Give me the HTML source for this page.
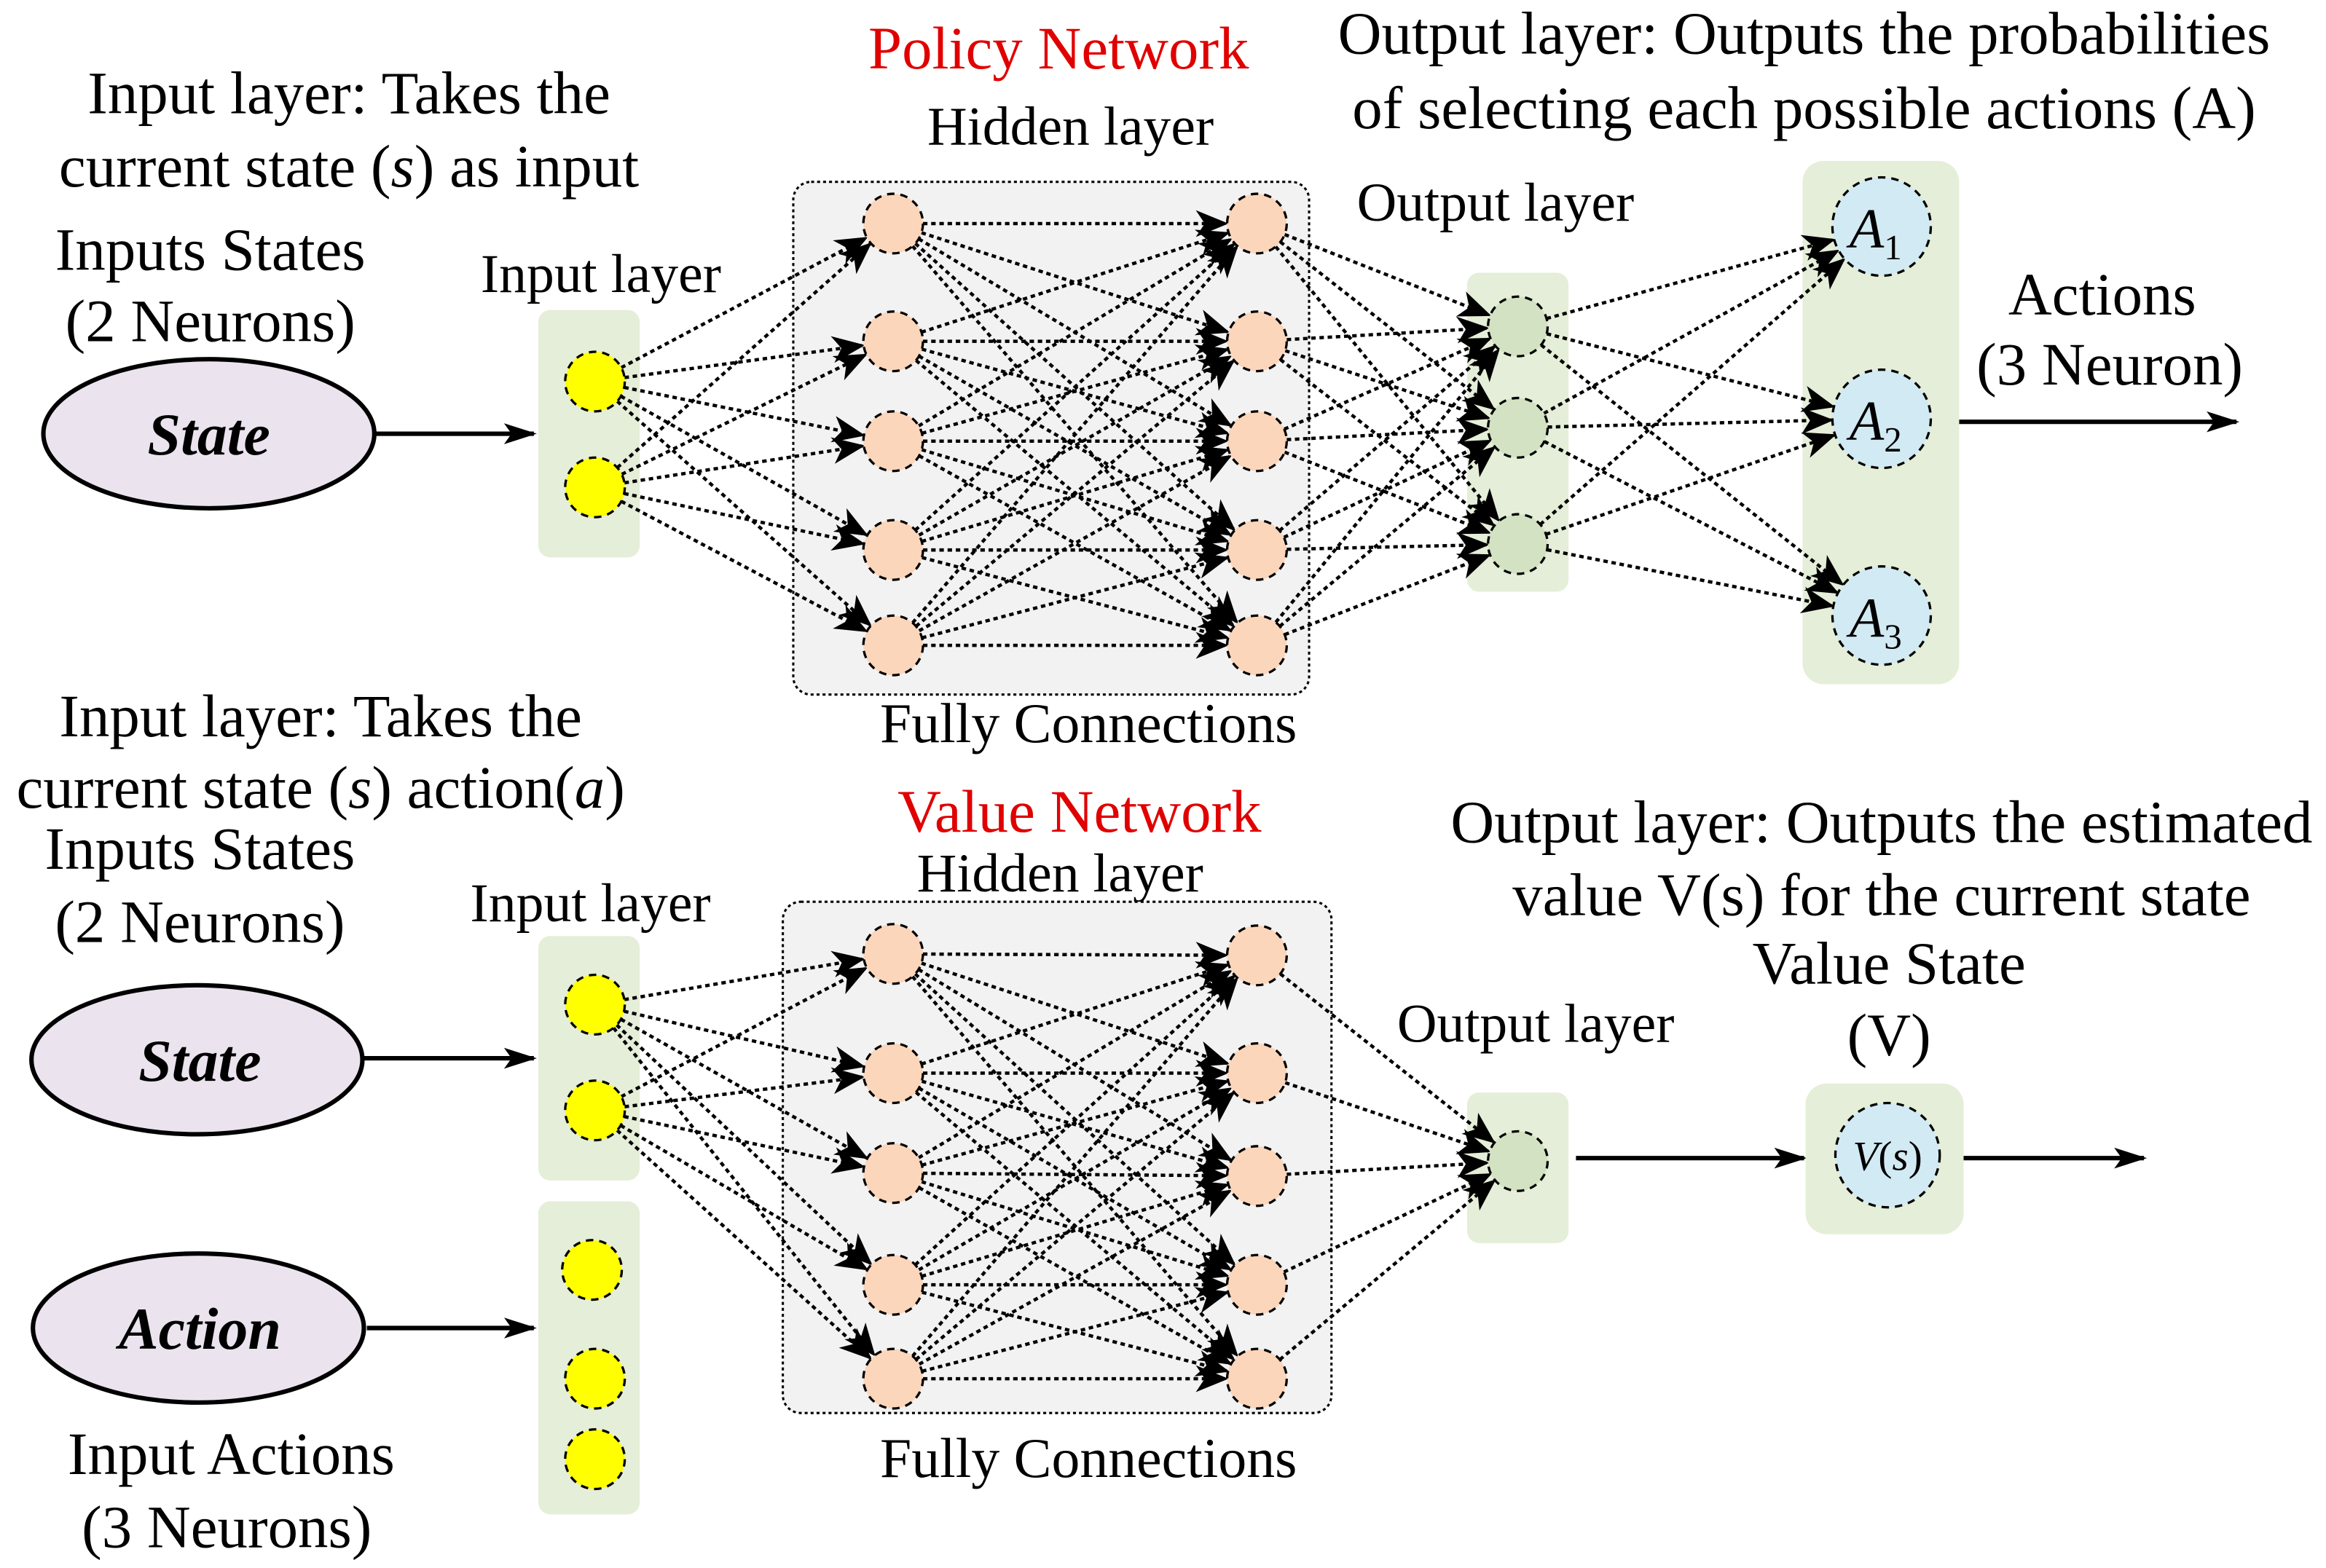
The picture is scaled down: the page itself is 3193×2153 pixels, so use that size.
<!DOCTYPE html>
<html><head><meta charset="utf-8"><style>html,body{margin:0;padding:0;background:#fff}svg{display:block}text{font-family:"Liberation Serif","Times New Roman",serif;fill:#000}</style></head>
<body>
<svg id="s" width="3193" height="2153" viewBox="0 0 1560 1052" xmlns="http://www.w3.org/2000/svg">
<defs>
<marker id="ah" markerUnits="userSpaceOnUse" markerWidth="22" markerHeight="18" refX="20" refY="9" orient="auto"><path d="M0,0 L22,9 L0,18 L6,9 Z" fill="#000"/></marker>
<marker id="ab" markerUnits="userSpaceOnUse" markerWidth="22" markerHeight="18" refX="20" refY="9" orient="auto"><path d="M0,2 L22,9 L0,16 L5,9 Z" fill="#000"/></marker>
</defs>
<g font-size="40.5" text-anchor="middle">
<text x="710" y="46" style="fill:#e00000">Policy Network</text>
<text x="718" y="97" font-size="37">Hidden layer</text>
<text x="234" y="76">Input layer: Takes the</text>
<text x="234" y="125">current state (<tspan font-style="italic">s</tspan>) as input</text>
<text x="141" y="181">Inputs States</text>
<text x="141" y="229">(2 Neurons)</text>
<text x="403" y="196" font-size="37">Input layer</text>
<text x="1003" y="148" font-size="37">Output layer</text>
<text x="1210" y="36">Output layer: Outputs the probabilities</text>
<text x="1210" y="86">of selecting each possible actions (A)</text>
<text x="1410" y="211">Actions</text>
<text x="1415" y="258">(3 Neuron)</text>
<text x="730" y="498" font-size="38">Fully Connections</text>
<text x="215" y="494">Input layer: Takes the</text>
<text x="215" y="542">current state (<tspan font-style="italic">s</tspan>) action(<tspan font-style="italic">a</tspan>)</text>
<text x="134" y="583">Inputs States</text>
<text x="134" y="632">(2 Neurons)</text>
<text x="724" y="558" style="fill:#e00000">Value Network</text>
<text x="711" y="598" font-size="37">Hidden layer</text>
<text x="396" y="618" font-size="37">Input layer</text>
<text x="1262" y="565">Output layer: Outputs the estimated</text>
<text x="1262" y="614">value V(s) for the current state</text>
<text x="1267" y="660">Value State</text>
<text x="1267" y="708">(V)</text>
<text x="1030" y="699" font-size="37">Output layer</text>
<text x="155" y="989">Input Actions</text>
<text x="152" y="1038">(3 Neurons)</text>
<text x="730" y="991" font-size="38">Fully Connections</text>
</g>
<g stroke="#000" stroke-width="3">
<ellipse cx="140" cy="291" rx="111" ry="50" fill="#ebe3ee"/>
<ellipse cx="132" cy="711" rx="111" ry="50" fill="#ebe3ee"/>
<ellipse cx="133" cy="891" rx="111" ry="50" fill="#ebe3ee"/>
<line x1="252" y1="291" x2="358" y2="291" marker-end="url(#ab)"/>
<line x1="244" y1="710" x2="358" y2="710" marker-end="url(#ab)"/>
<line x1="246" y1="891" x2="358" y2="891" marker-end="url(#ab)"/>
<line x1="1314" y1="283" x2="1500" y2="283" marker-end="url(#ab)"/>
<line x1="1057" y1="777" x2="1210" y2="777" marker-end="url(#ab)"/>
<line x1="1317" y1="777" x2="1438" y2="777" marker-end="url(#ab)"/>
</g>
<g font-size="40" font-weight="bold" font-style="italic" text-anchor="middle">
<text x="140" y="305">State</text>
<text x="134" y="725">State</text>
<text x="134" y="905">Action</text>
</g>
<g fill="#e5eed8">
<rect x="361" y="208" width="68" height="166" rx="8"/>
<rect x="984" y="183" width="68" height="214" rx="8"/>
<rect x="1209" y="108" width="105" height="351" rx="14"/>
<rect x="361" y="628" width="68" height="164" rx="8"/>
<rect x="361" y="806" width="68" height="210" rx="8"/>
<rect x="984" y="733" width="68" height="101" rx="8"/>
<rect x="1211" y="727" width="106" height="101" rx="14"/>
</g>
<rect x="532" y="122" width="346" height="344" rx="12" fill="#f2f2f2" stroke="#000" stroke-width="1.5" stroke-dasharray="2 2"/>
<rect x="525" y="605" width="368" height="343" rx="12" fill="#f2f2f2" stroke="#000" stroke-width="1.5" stroke-dasharray="2 2"/>
<g id="lines" stroke="#000" stroke-width="2.2" stroke-dasharray="3 2.5" fill="none"></g>
<g id="nodes" stroke="#000" stroke-width="1.6" stroke-dasharray="5 4"></g>
<g font-size="38" font-style="italic" text-anchor="middle">
<text x="1258" y="166">A<tspan font-size="24" dy="8" font-style="normal">1</tspan></text>
<text x="1258" y="295">A<tspan font-size="24" dy="8" font-style="normal">2</tspan></text>
<text x="1258" y="427">A<tspan font-size="24" dy="8" font-style="normal">3</tspan></text>
<text x="1266" y="785" font-size="28">V<tspan font-style="normal">(</tspan>s<tspan font-style="normal">)</tspan></text>
</g>
<script>
var NS="http://www.w3.org/2000/svg";
var L=document.getElementById('lines'),N=document.getElementById('nodes');
function circ(x,y,r,f){var c=document.createElementNS(NS,'circle');c.setAttribute('cx',x);c.setAttribute('cy',y);c.setAttribute('r',r);c.setAttribute('fill',f);N.appendChild(c);}
function conn(A,ra,B,rb){A.forEach(function(a){B.forEach(function(b){var dx=b[0]-a[0],dy=b[1]-a[1],d=Math.hypot(dx,dy);var l=document.createElementNS(NS,'line');l.setAttribute('x1',a[0]+dx/d*ra);l.setAttribute('y1',a[1]+dy/d*ra);l.setAttribute('x2',b[0]-dx/d*rb);l.setAttribute('y2',b[1]-dy/d*rb);l.setAttribute('marker-end','url(#ah)');L.appendChild(l);});});}
var pIn=[[399,256],[399,327]];
var pH1=[[599,150],[599,229],[599,296],[599,369],[599,433]];
var pH2=[[843,150],[843,229],[843,296],[843,369],[843,433]];
var pO=[[1018,219],[1018,287],[1018,365]];
var pA=[[1262,152],[1262,281],[1262,413]];
conn(pIn,20,pH1,21);conn(pH1,20,pH2,21);conn(pH2,20,pO,21);conn(pO,20,pA,34);
var vIn=[[399,674],[399,745]];
var vH1=[[599,640],[599,720],[599,787],[599,862],[599,925]];
var vH2=[[843,641],[843,720],[843,789],[843,862],[843,925]];
var vO=[[1018,779]];
conn(vIn,20,vH1,21);conn(vH1,20,vH2,21);conn(vH2,20,vO,21);
pIn.concat(vIn,[[397,852],[399,925],[399,979]]).forEach(function(p){circ(p[0],p[1],20,'#ffff00');});
pH1.concat(pH2,vH1,vH2).forEach(function(p){circ(p[0],p[1],20,'#fcd6bb');});
pO.concat(vO).forEach(function(p){circ(p[0],p[1],20,'#d3e2c2');});
pA.forEach(function(p){circ(p[0],p[1],33,'#d2eaf3');});
circ(1266,775,35,'#d2eaf3');
</script>
</svg>
</body></html>
